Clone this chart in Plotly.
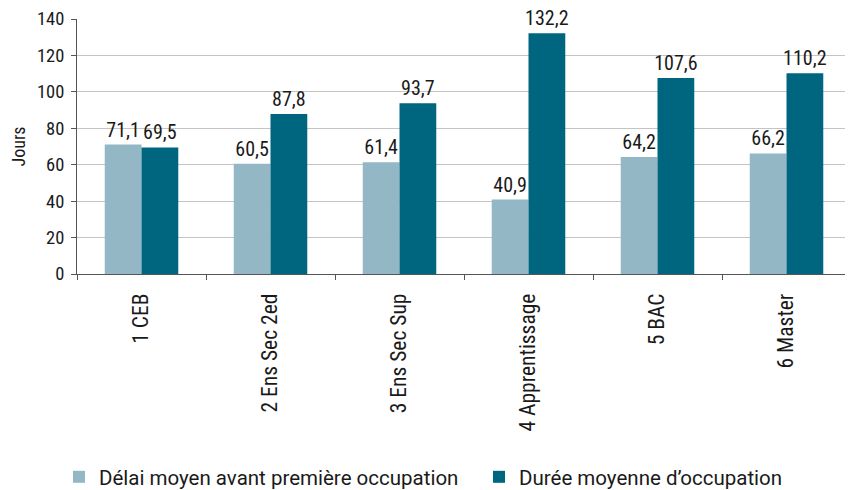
import plotly.graph_objects as go

categories = ["1 CEB", "2 Ens Sec 2ed", "3 Ens Sec Sup", "4 Apprentissage", "5 BAC", "6 Master"]
delai = [71.1, 60.5, 61.4, 40.9, 64.2, 66.2]
duree = [69.5, 87.8, 93.7, 132.2, 107.6, 110.2]
series_names = ["Délai moyen avant première occupation", "Durée moyenne d\u2019occupation"]
colors = ["#94B7C5", "#00667F"]
yticks = [0, 20, 40, 60, 80, 100, 120, 140]

FONT = "Roboto Condensed, Archivo Narrow, Asap Condensed, sans-serif"
LFONT = "Roboto, sans-serif"
TXT = "#1a1a1a"

fig = go.Figure()
for name, vals, c, lg in zip(series_names, [delai, duree], colors, ["legend", "legend2"]):
    fig.add_trace(go.Bar(
        x=categories, y=vals, name=name, marker_color=c, marker_line_width=0,
        text=[f"{v:.1f}".replace(".", ",") for v in vals],
        textposition="outside", cliponaxis=False, constraintext="none",
        textfont=dict(size=20, color=TXT, family=FONT), legend=lg,
    ))

leg_common = dict(orientation="h", xanchor="left", y=-0.796, yanchor="middle",
                  font=dict(size=20.5, family=LFONT, color=TXT), itemwidth=30,
                  bgcolor="rgba(0,0,0,0)")

fig.update_layout(
    template="none",
    width=845, height=482,
    margin=dict(l=69, r=2, t=11, b=216, autoexpand=False),
    paper_bgcolor="white", plot_bgcolor="white",
    barmode="group", bargap=0.43, bargroupgap=0,
    font=dict(family=FONT, size=18, color=TXT),
    showlegend=True,
    legend=dict(x=-0.0233, **leg_common),
    legend2=dict(x=0.5194, **leg_common),
    xaxis=dict(
        type="category", tickangle=-90, showline=True, linecolor="#555555", linewidth=1,
        ticks="outside", tickson="boundaries", ticklen=5, tickcolor="#555555",
        showgrid=False, automargin=False, ticklabelstandoff=10,
        tickfont=dict(size=21.5, family=FONT, color=TXT),
    ),
    yaxis=dict(
        range=[0, 140], tickvals=yticks, showline=True, linecolor="#555555", linewidth=1,
        ticks="outside", ticklen=5, tickcolor="#555555",
        showgrid=True, gridcolor="#C4C4C4", gridwidth=1, zeroline=False, automargin=False,
        ticklabelstandoff=3,
        title=dict(text="Jours", font=dict(size=18, family=FONT, color=TXT), standoff=10),
        tickfont=dict(size=18.5, family=FONT, color=TXT),
    ),
)

fig.write_html("out.html")
